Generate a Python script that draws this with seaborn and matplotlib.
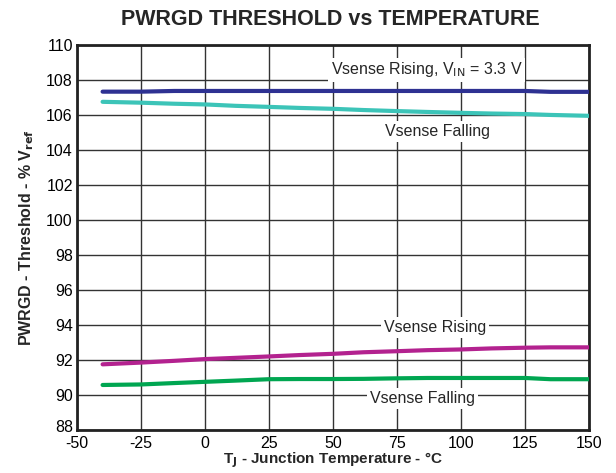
import matplotlib
matplotlib.use("Agg")
import matplotlib.pyplot as plt
import matplotlib.transforms as mtransforms
import seaborn as sns
import pandas as pd

temp = [-40, -25, -12, 0, 12, 25, 37, 50, 62, 75, 87, 100, 112, 125, 135, 150]
rising_33 = [107.33, 107.33, 107.37, 107.37, 107.37, 107.37, 107.37, 107.37, 107.37, 107.37, 107.37, 107.37, 107.37, 107.37, 107.32, 107.32]
falling_hi = [106.75, 106.70, 106.64, 106.60, 106.52, 106.46, 106.40, 106.35, 106.28, 106.22, 106.17, 106.12, 106.08, 106.05, 106.00, 105.95]
rising_lo = [91.75, 91.85, 91.95, 92.05, 92.12, 92.20, 92.28, 92.35, 92.44, 92.50, 92.56, 92.60, 92.66, 92.70, 92.72, 92.72]
falling_lo = [90.57, 90.60, 90.68, 90.75, 90.82, 90.90, 90.91, 90.91, 90.92, 90.95, 90.97, 90.97, 90.97, 90.97, 90.90, 90.90]

series_names = ["rise33", "fallhi", "riselo", "falllo"]
series_vals = [rising_33, falling_hi, rising_lo, falling_lo]
colors = {"rise33": "#2e3192", "fallhi": "#3cc4b8", "riselo": "#b3228f", "falllo": "#00a651"}

rows = []
for n, vals in zip(series_names, series_vals):
    for t, v in zip(temp, vals):
        rows.append({"temp": t, "val": v, "series": n})
df = pd.DataFrame(rows)

sns.set_style("white")
plt.rcParams["font.family"] = ["Liberation Sans", "DejaVu Sans"]
plt.rcParams["axes.unicode_minus"] = False

fig = plt.figure(figsize=(6.16, 4.73), dpi=100)
ax = fig.add_axes([0.125, 0.091, 0.831, 0.814])

sns.lineplot(data=df, x="temp", y="val", hue="series", palette=colors,
             linewidth=3, legend=False, ax=ax, zorder=3)

ax.set_xlim(-50, 150)
ax.set_ylim(88, 110)
ax.set_xticks(range(-50, 151, 25))
ax.set_yticks(range(88, 111, 2))
ax.grid(True, color="#333333", linewidth=1)
ax.tick_params(axis="both", length=0, labelsize=11.5, colors="black")
ax.tick_params(axis="x", pad=4)
ax.tick_params(axis="y", pad=3)
for s in ax.spines.values():
    s.set_color("#222222")
    s.set_linewidth(2)

# nudge the lowest y tick label up slightly so it clears the first x tick label
fig.canvas.draw()
lbl88 = ax.get_yticklabels()[0]
lbl88.set_transform(lbl88.get_transform() + mtransforms.ScaledTranslation(0, 3 / 72, fig.dpi_scale_trans))

ax.set_xlabel("T$_\\mathbf{J}$ - Junction Temperature - °C", fontsize=11, fontweight="bold", labelpad=0)
ax.set_ylabel("PWRGD - Threshold - % V$_\\mathbf{ref}$", fontsize=11.5, fontweight="bold", labelpad=7)
fig.text(0.537, 0.958, "PWRGD THRESHOLD vs TEMPERATURE", fontsize=15.5, fontweight="bold",
         ha="center", va="center")

box = dict(facecolor="white", edgecolor="none", pad=2)
ax.text(86.7, 108.57, "Vsense Rising, V$_{\\mathrm{IN}}$ = 3.3 V", ha="center", va="center", fontsize=11.5, bbox=box, zorder=4)
ax.text(91, 105.05, "Vsense Falling", ha="center", va="center", fontsize=11.5, bbox=box, zorder=4)
ax.text(89.8, 93.85, "Vsense Rising", ha="center", va="center", fontsize=11.5, bbox=box, zorder=4)
ax.text(85, 89.8, "Vsense Falling", ha="center", va="center", fontsize=11.5, bbox=box, zorder=4)

fig.savefig("out.png", dpi=100)
